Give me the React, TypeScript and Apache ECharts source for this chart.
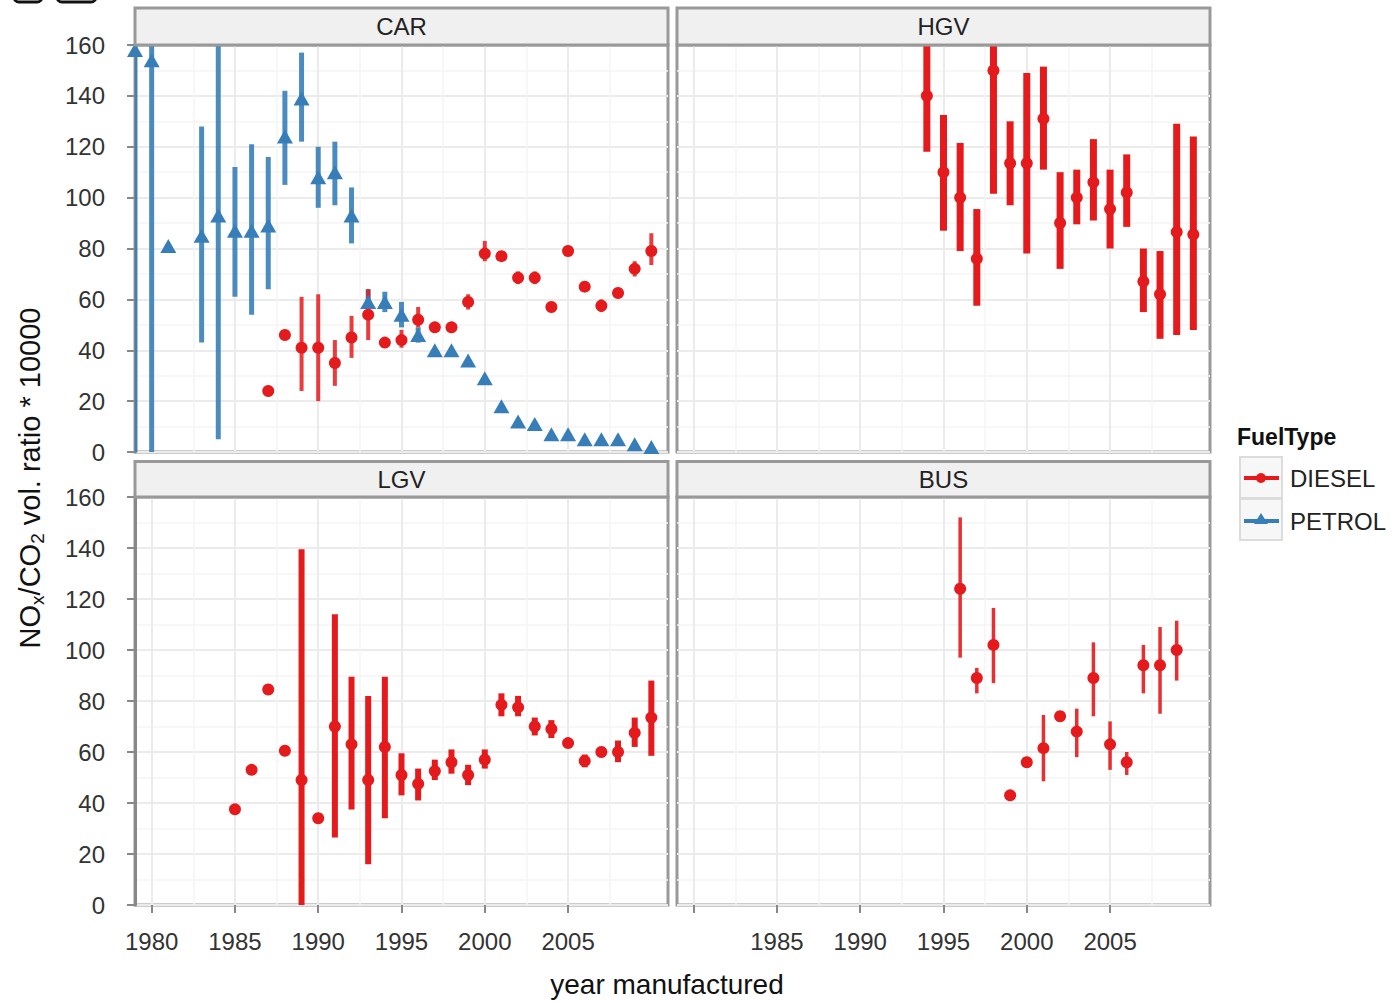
import React, { useEffect, useRef } from "react";
import * as echarts from "echarts";

// ---------- axis settings ----------
const X_MIN = 1979;
const X_MAX = 2011;
const Y_MIN = 0;
const Y_MAX = 160;
const Y_STEP = 20;
const xMajorTicks = [1980, 1985, 1990, 1995, 2000, 2005];
const xMinorTicks = [1982.5, 1987.5, 1992.5, 1997.5, 2002.5, 2007.5];
const xLabelsLeft = [1980, 1985, 1990, 1995, 2000, 2005];
const xLabelsRight = [1985, 1990, 1995, 2000, 2005];

const panelNames = ["CAR", "HGV", "LGV", "BUS"];
const fuelTypes = ["DIESEL", "PETROL"];

// ---------- data ----------
// CAR / PETROL
const carPetrolYears = [1979, 1980, 1981, 1983, 1984, 1985, 1986, 1987, 1988, 1989, 1990, 1991, 1992, 1993, 1994, 1995, 1996, 1997, 1998, 1999, 2000, 2001, 2002, 2003, 2004, 2005, 2006, 2007, 2008, 2009, 2010];
const carPetrolValue = [158, 154, 81, 85, 93, 87, 87, 89, 124, 139, 108, 110, 93, 59, 59, 54, 46, 40, 40, 36, 29, 18, 12, 11, 7, 7, 5, 5, 5, 3, 2];
const carPetrolLow = [-5, -5, 81, 43, 5, 61, 54, 64, 105, 122, 96, 97, 82, 57, 55, 49, 43, 40, 40, 35, 29, 18, 12, 11, 7, 7, 5, 5, 5, 3, 2];
const carPetrolHigh = [175, 175, 81, 128, 175, 112, 121, 116, 142, 157, 120, 122, 104, 64, 63, 59, 49, 40, 40, 36, 29, 18, 12, 11, 7, 7, 5, 5, 5, 3, 2];

// CAR / DIESEL
const carDieselYears = [1987, 1988, 1989, 1990, 1991, 1992, 1993, 1994, 1995, 1996, 1997, 1998, 1999, 2000, 2001, 2002, 2003, 2004, 2005, 2006, 2007, 2008, 2009, 2010];
const carDieselValue = [24, 46, 41, 41, 35, 45, 54, 43, 44, 52, 49, 49, 59, 78, 77, 68.5, 68.5, 57, 79, 65, 57.5, 62.5, 72, 79];
const carDieselLow = [24, 46, 24, 20, 26, 37, 44, 43, 41, 49, 47, 47, 56, 75, 75, 66, 66, 55, 77, 63, 55, 61, 69, 73.5];
const carDieselHigh = [24, 46, 61, 62, 44, 53.5, 64, 43, 48, 57, 51, 51, 62, 83, 79, 71, 71, 59, 81, 67, 60, 64, 75, 86];

// HGV / DIESEL
const hgvYears = [1994, 1995, 1996, 1997, 1998, 1999, 2000, 2001, 2002, 2003, 2004, 2005, 2006, 2007, 2008, 2009, 2010];
const hgvValue = [140, 110, 100, 76, 150, 113.5, 113.5, 131, 90, 100, 106, 95.5, 102, 67, 62, 86.5, 85.5];
const hgvLow = [118, 87, 79, 57.5, 101.5, 97, 78, 111, 72, 89.5, 91, 80, 88.5, 55, 44.5, 46, 48];
const hgvHigh = [175, 132.5, 121.5, 95.5, 175, 130, 149, 151.5, 110, 111, 123, 111, 117, 80, 79, 129, 124];

// LGV / DIESEL
const lgvYears = [1985, 1986, 1987, 1988, 1989, 1990, 1991, 1992, 1993, 1994, 1995, 1996, 1997, 1998, 1999, 2000, 2001, 2002, 2003, 2004, 2005, 2006, 2007, 2008, 2009, 2010];
const lgvValue = [37.5, 53, 84.5, 60.5, 49, 34, 70, 63, 49, 62, 51, 47.5, 52.5, 56, 51, 57, 78.5, 77.5, 70, 69, 63.5, 56.5, 60, 60, 67.5, 73.5];
const lgvLow = [37.5, 53, 84.5, 60.5, -5, 34, 26.5, 37.5, 16, 34, 43, 41, 49, 51.5, 47, 53.5, 74, 74, 66.5, 65.5, 62, 54, 58, 56, 62, 58.5];
const lgvHigh = [37.5, 53, 84.5, 60.5, 139.5, 34, 114, 89.5, 82, 89.5, 59.5, 53.5, 57, 61, 55, 61, 83, 82, 73.5, 72.5, 65, 59, 62, 64.5, 73.5, 88];

// BUS / DIESEL
const busYears = [1996, 1997, 1998, 1999, 2000, 2001, 2002, 2003, 2004, 2005, 2006, 2007, 2008, 2009];
const busValue = [124, 89, 102, 43, 56, 61.5, 74, 68, 89, 63, 56, 94, 94, 100];
const busLow = [97, 83, 87, 43, 54, 48.5, 74, 58, 74, 53, 51, 83, 75, 88];
const busHigh = [152, 93, 116.5, 43, 58, 74.5, 74, 77, 103, 72, 60, 102, 109, 111.5];

// ---------- styling ----------
const RED = "#e41a1c";
const BLUE = "#377eb8";
const FONT = "'Liberation Sans', Arial, Helvetica, sans-serif";

const gridRects = [
  { left: 135, top: 45, width: 533, height: 407 },
  { left: 677, top: 45, width: 533, height: 407 },
  { left: 135, top: 497, width: 533, height: 408 },
  { left: 677, top: 497, width: 533, height: 408 },
];

function errSeries(idx: number, years: number[], lo: number[], hi: number[], color: string, width: number, opacity: number) {
  const data = years
    .map((y, i) => [y, lo[i], hi[i]])
    .filter((d) => d[2] > d[1]);
  return {
    type: "custom",
    xAxisIndex: idx,
    yAxisIndex: idx,
    clip: true,
    z: 2,
    silent: true,
    encode: { x: 0, y: [1, 2] },
    data,
    renderItem: (params: any, api: any) => {
      const x = api.value(0);
      const l = api.value(1);
      const h = api.value(2);
      const top = api.coord([x, h]);
      const bot = api.coord([x, l]);
      return {
        type: "rect",
        shape: { x: top[0] - width / 2, y: top[1], width, height: bot[1] - top[1] },
        style: { fill: color, opacity },
      };
    },
  };
}

function pointSeries(idx: number, name: string, years: number[], vals: number[], color: string, symbol: string, size: any) {
  return {
    type: "scatter",
    name,
    xAxisIndex: idx,
    yAxisIndex: idx,
    z: 3,
    symbol,
    symbolSize: size,
    itemStyle: { color, opacity: 1 },
    data: years.map((y, i) => [y, vals[i]]),
  };
}

export default function App() {
  const ref = useRef<HTMLDivElement>(null);

  useEffect(() => {
    document.body.style.margin = "0";
    if (!ref.current) return;
    const chart = echarts.init(ref.current, undefined, { renderer: "svg" });

    const isBottom = (i: number) => i >= 2;
    const isLeft = (i: number) => i % 2 === 0;

    const xAxesMain = gridRects.map((_, i) => ({
      type: "value",
      gridIndex: i,
      min: X_MIN,
      max: X_MAX,
      axisLine: { show: false },
      axisTick: {
        show: isBottom(i),
        customValues: xMajorTicks,
        length: 8,
        lineStyle: { color: "#888", width: 2 },
      },
      axisLabel: {
        show: isBottom(i),
        customValues: isLeft(i) ? xLabelsLeft : xLabelsRight,
        fontSize: 24,
        fontFamily: FONT,
        color: "#333",
        margin: 24,
        formatter: (v: number) => String(v),
      },
      splitLine: { show: true, lineStyle: { color: "#ebebeb", width: 2 } },
    }));

    const xAxesMinor = gridRects.map((_, i) => ({
      type: "value",
      gridIndex: i,
      min: X_MIN,
      max: X_MAX,
      axisLine: { show: false },
      axisTick: { show: false, customValues: xMinorTicks },
      axisLabel: { show: false, customValues: xMinorTicks },
      splitLine: { show: true, lineStyle: { color: "#f5f5f5", width: 1.5 } },
    }));

    const yAxes = gridRects.map((_, i) => ({
      type: "value",
      gridIndex: i,
      min: Y_MIN,
      max: Y_MAX,
      interval: Y_STEP,
      axisLine: { show: isLeft(i), lineStyle: { color: "#888", width: 3 } },
      axisTick: { show: isLeft(i), length: 8, lineStyle: { color: "#888", width: 2 } },
      axisLabel: {
        show: isLeft(i),
        fontSize: 24,
        fontFamily: FONT,
        color: "#333",
        margin: 30,
      },
      splitLine: { show: true, lineStyle: { color: "#ebebeb", width: 2 } },
      minorTick: { show: false, splitNumber: 2 },
      minorSplitLine: { show: true, lineStyle: { color: "#f5f5f5", width: 1.5 } },
    }));

    const series: any[] = [
      // CAR
      errSeries(0, carPetrolYears, carPetrolLow, carPetrolHigh, BLUE, 5, 0.9),
      errSeries(0, carDieselYears, carDieselLow, carDieselHigh, RED, 4, 0.85),
      pointSeries(0, fuelTypes[1], carPetrolYears, carPetrolValue, BLUE, "triangle", [16, 14]),
      pointSeries(0, fuelTypes[0], carDieselYears, carDieselValue, RED, "circle", 12),
      // HGV
      errSeries(1, hgvYears, hgvLow, hgvHigh, RED, 7, 1),
      pointSeries(1, fuelTypes[0], hgvYears, hgvValue, RED, "circle", 12),
      // LGV
      errSeries(2, lgvYears, lgvLow, lgvHigh, RED, 6, 1),
      pointSeries(2, fuelTypes[0], lgvYears, lgvValue, RED, "circle", 12),
      // BUS
      errSeries(3, busYears, busLow, busHigh, RED, 3.5, 0.9),
      pointSeries(3, fuelTypes[0], busYears, busValue, RED, "circle", 12),
    ];

    const strips = gridRects.map((g, i) => {
      const top = i < 2 ? 8 : 461.5;
      return [
        {
          type: "rect",
          shape: { x: g.left, y: top, width: g.width, height: g.top - top },
          style: { fill: "#f0f0f0", stroke: "#999", lineWidth: 3 },
          z: 10,
        },
        {
          type: "text",
          x: g.left + g.width / 2,
          y: top + (g.top - top) / 2,
          style: {
            text: panelNames[i],
            fontSize: 24,
            fontFamily: FONT,
            fill: "#222",
            align: "center",
            verticalAlign: "middle",
          },
          z: 11,
        },
      ];
    }).flat();

    const graphic: any[] = [
      // remnants at the top-left edge
      { type: "rect", shape: { x: 14, y: -20, width: 28, height: 22, r: 5 }, style: { fill: "none", stroke: "#111", lineWidth: 3 } },
      { type: "rect", shape: { x: 57, y: -20, width: 39, height: 22, r: 5 }, style: { fill: "none", stroke: "#111", lineWidth: 3 } },
      ...strips,
      // y-axis title
      {
        type: "text",
        x: 30,
        y: 478,
        rotation: Math.PI / 2,
        style: {
          text: "{n|NO}{s|x}{n|/CO}{s|2}{n| vol. ratio * 10000}",
          align: "center",
          verticalAlign: "middle",
          fontFamily: FONT,
          rich: {
            n: { fontSize: 29, fontFamily: FONT, fill: "#111", lineHeight: 34 },
            s: { fontSize: 19, fontFamily: FONT, fill: "#111", lineHeight: 14, verticalAlign: "bottom" },
          },
        },
      },
      // x-axis title
      {
        type: "text",
        x: 667,
        y: 984,
        style: {
          text: "year manufactured",
          fontSize: 28,
          fontFamily: FONT,
          fill: "#111",
          align: "center",
          verticalAlign: "middle",
        },
      },
      // legend
      {
        type: "text",
        x: 1237,
        y: 437,
        style: { text: "FuelType", fontSize: 23, fontWeight: "bold", fontFamily: FONT, fill: "#111", verticalAlign: "middle" },
      },
      { type: "rect", shape: { x: 1240, y: 457, width: 42, height: 41 }, style: { fill: "#f7f7f7", stroke: "#dcdcdc", lineWidth: 2 } },
      { type: "rect", shape: { x: 1240, y: 499, width: 42, height: 41 }, style: { fill: "#f7f7f7", stroke: "#dcdcdc", lineWidth: 2 } },
      { type: "line", shape: { x1: 1244, y1: 478, x2: 1279, y2: 478 }, style: { stroke: RED, lineWidth: 4 } },
      { type: "circle", shape: { cx: 1261, cy: 478, r: 5 }, style: { fill: RED } },
      { type: "line", shape: { x1: 1244, y1: 521, x2: 1279, y2: 521 }, style: { stroke: BLUE, lineWidth: 4 } },
      { type: "polygon", shape: { points: [[1261, 513], [1268, 524], [1254, 524]] }, style: { fill: BLUE } },
      {
        type: "text",
        x: 1290,
        y: 478,
        style: { text: fuelTypes[0], fontSize: 24, fontFamily: FONT, fill: "#222", verticalAlign: "middle" },
      },
      {
        type: "text",
        x: 1290,
        y: 521,
        style: { text: fuelTypes[1], fontSize: 24, fontFamily: FONT, fill: "#222", verticalAlign: "middle" },
      },
    ];

    chart.setOption({
      animation: false,
      backgroundColor: "#fff",
      textStyle: { fontFamily: FONT },
      grid: gridRects.map((g) => ({
        ...g,
        show: true,
        backgroundColor: "#fff",
        borderColor: "#999",
        borderWidth: 3,
        containLabel: false,
      })),
      xAxis: [...xAxesMain, ...xAxesMinor],
      yAxis: yAxes,
      series,
      graphic,
    });

    return () => {
      chart.dispose();
    };
  }, []);

  return <div ref={ref} style={{ width: 1395, height: 1001 }} />;
}
